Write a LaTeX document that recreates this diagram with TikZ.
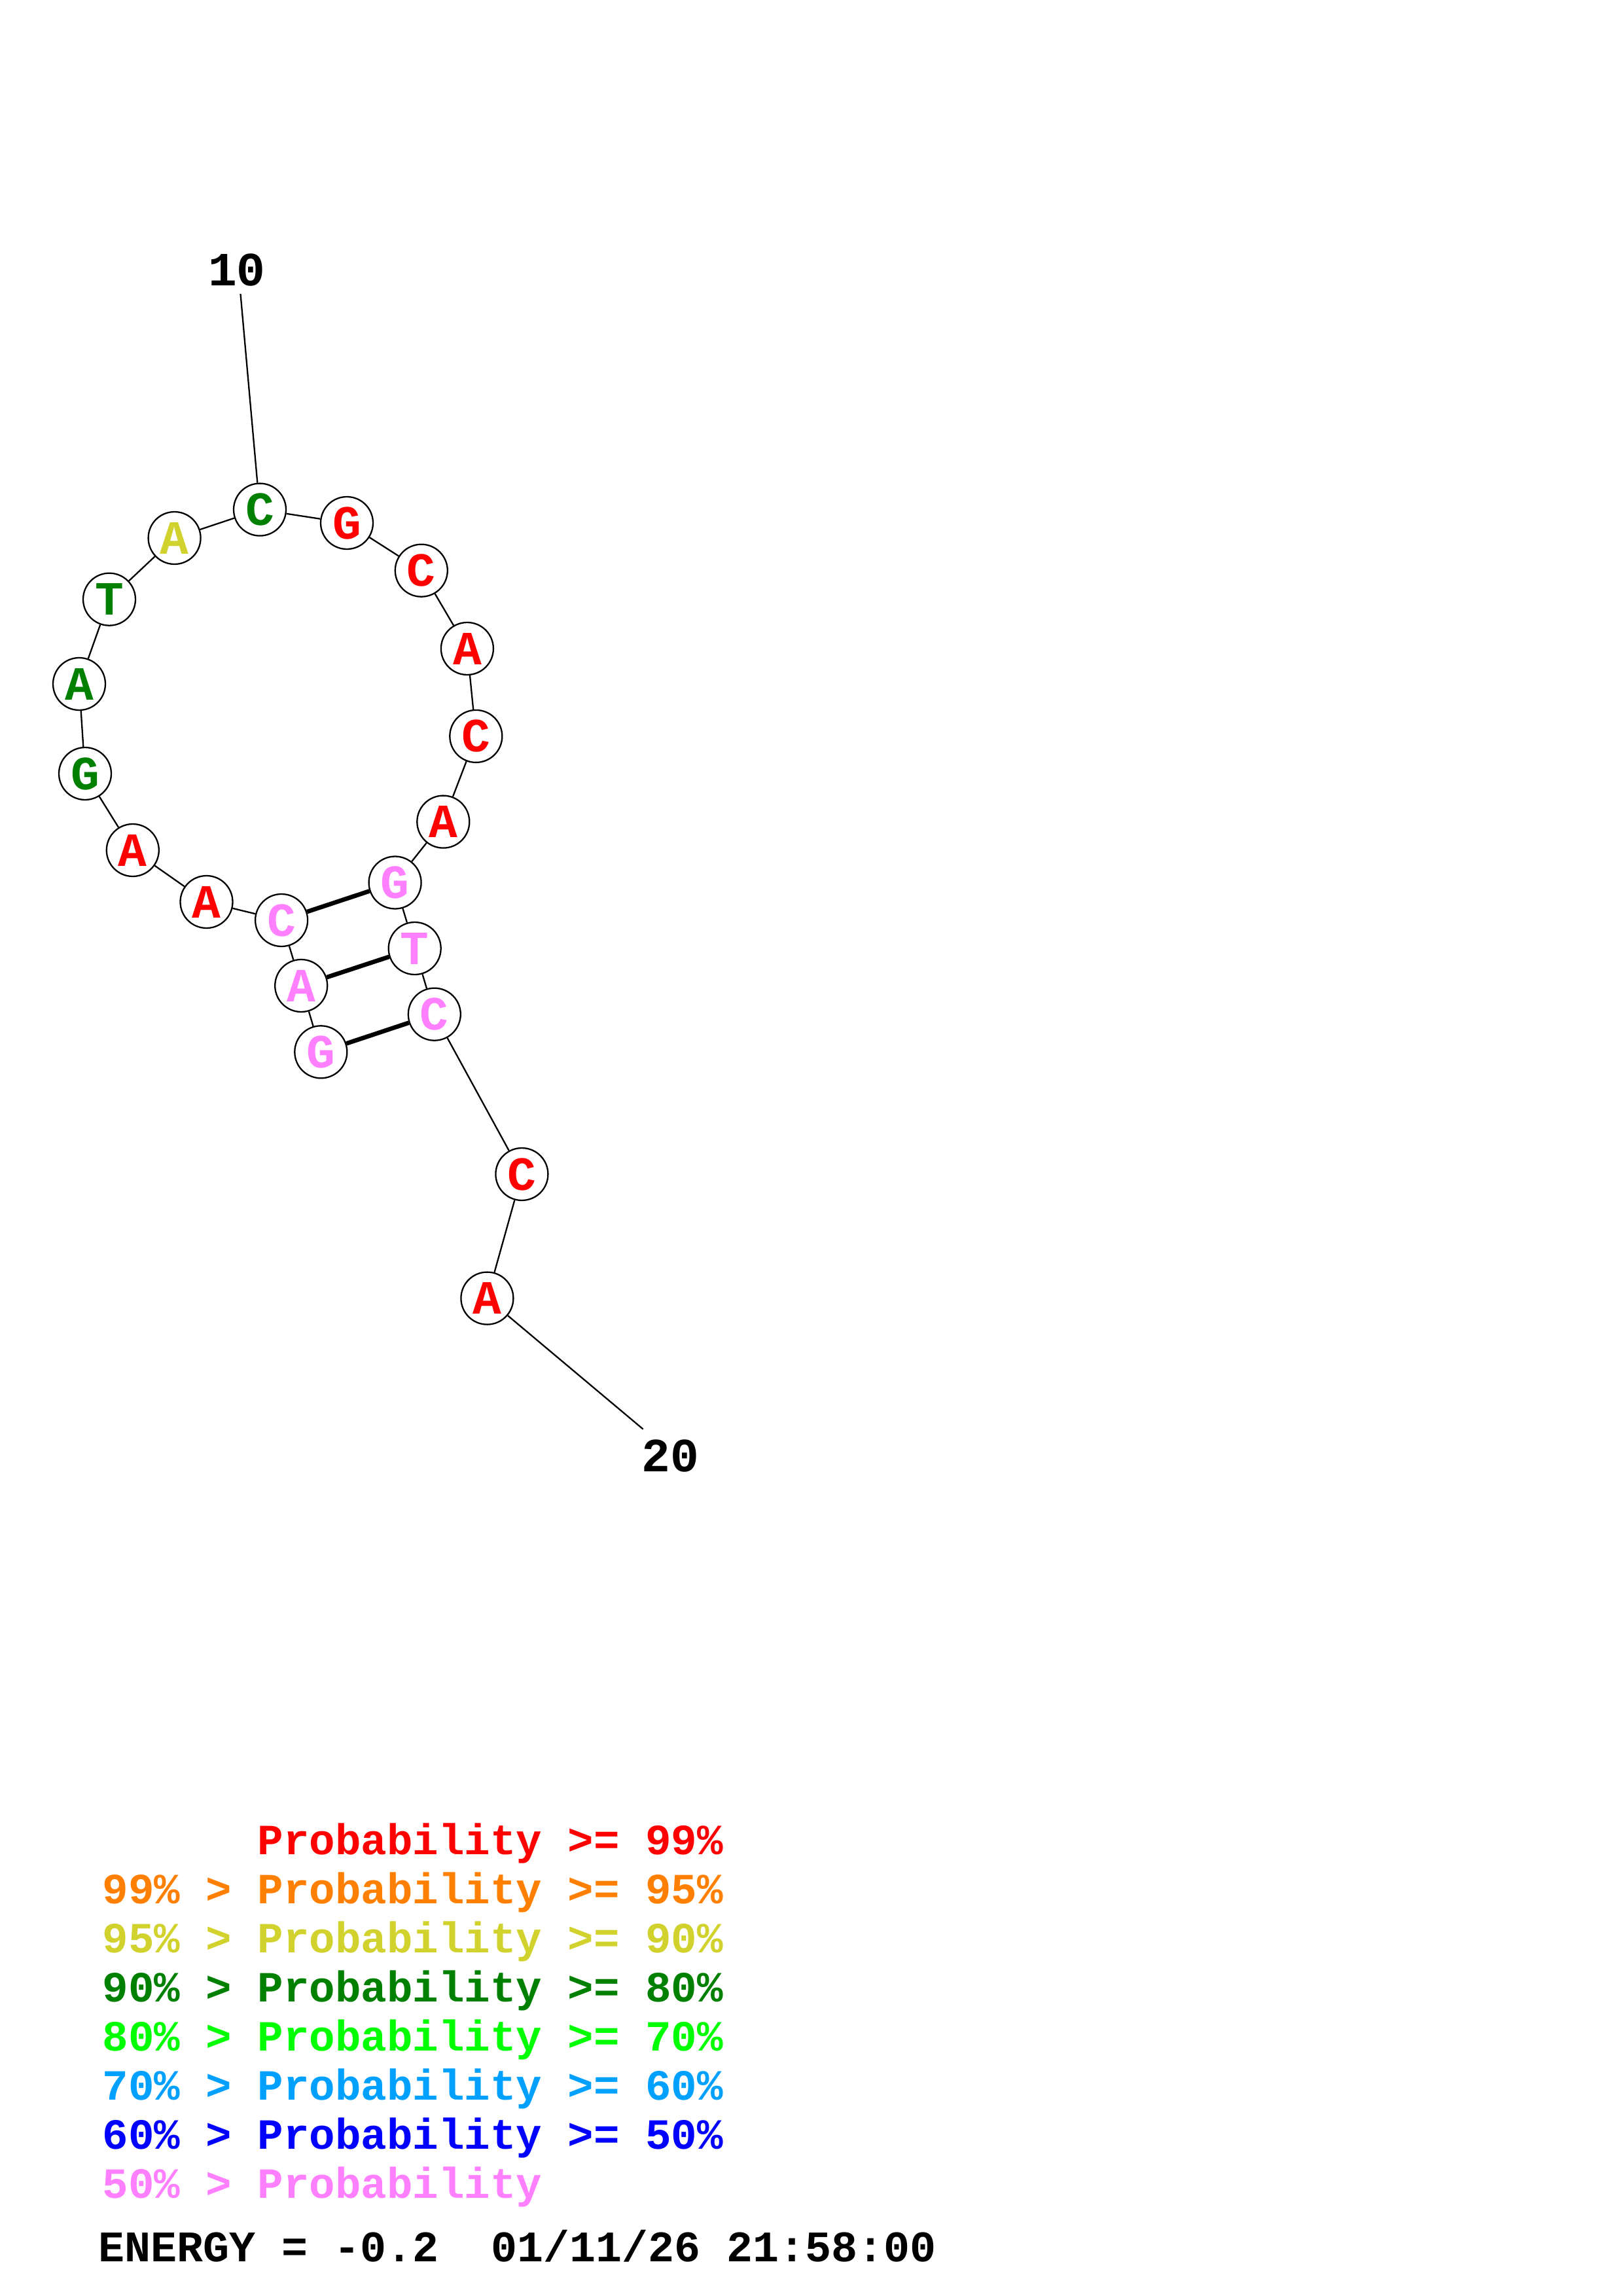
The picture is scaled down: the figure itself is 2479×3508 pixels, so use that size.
\documentclass[tikz,border=0pt]{standalone}
\usepackage{fontspec}
\newfontfamily\cour{Liberation Mono}
\definecolor{pr}{HTML}{FF0000}
\definecolor{po}{HTML}{FF8000}
\definecolor{py}{HTML}{D2D22E}
\definecolor{pdg}{HTML}{008000}
\definecolor{pg}{HTML}{00FF00}
\definecolor{plb}{HTML}{00A0FF}
\definecolor{pb}{HTML}{0000FF}
\definecolor{pp}{HTML}{FF80FF}
\begin{document}
\begin{tikzpicture}[x=0.24pt,y=-0.24pt,
  nt/.style={circle,draw=black,line width=0.55pt,fill=white,minimum size=19.2pt,inner sep=0pt,
    font=\cour\bfseries\fontsize{17.5}{17.5}\selectfont},
  bb/.style={line width=0.55pt},
  bp/.style={line width=1.6pt},
  lbl/.style={font=\cour\bfseries\fontsize{17.5}{17.5}\selectfont,inner sep=0pt},
  leg/.style={font=\cour\bfseries\fontsize{15.8}{15.8}\selectfont,inner sep=0pt,anchor=base west}]
\useasboundingbox (0,0) rectangle (2479,3508);
\node[nt,text=pp]  (n1)  at (490.3,1607.3) {G};
\node[nt,text=pp]  (n2)  at (460.2,1506) {A};
\node[nt,text=pp]  (n3)  at (430.1,1406) {C};
\node[nt,text=pr]  (n4)  at (315.5,1378) {A};
\node[nt,text=pr]  (n5)  at (202.8,1299) {A};
\node[nt,text=pdg] (n6)  at (130,1182) {G};
\node[nt,text=pdg] (n7)  at (121,1045) {A};
\node[nt,text=pdg] (n8)  at (167,915.7) {T};
\node[nt,text=py]  (n9)  at (266.6,822) {A};
\node[nt,text=pdg] (n10) at (397,778.6) {C};
\node[nt,text=pr]  (n11) at (530,799) {G};
\node[nt,text=pr]  (n12) at (643.8,871.7) {C};
\node[nt,text=pr]  (n13) at (713.9,991) {A};
\node[nt,text=pr]  (n14) at (727.3,1124.9) {C};
\node[nt,text=pr]  (n15) at (677.3,1255.6) {A};
\node[nt,text=pp]  (n16) at (603.6,1348.5) {G};
\node[nt,text=pp]  (n17) at (633.7,1449) {T};
\node[nt,text=pp]  (n18) at (663.8,1549.7) {C};
\node[nt,text=pr]  (n19) at (797.4,1794) {C};
\node[nt,text=pr]  (n20) at (744.4,1983.6) {A};
\foreach \a/\b in {1/2,2/3,3/4,4/5,5/6,6/7,7/8,8/9,9/10,10/11,11/12,12/13,13/14,14/15,15/16,16/17,17/18,18/19,19/20}
  \draw[bb] (n\a) -- (n\b);
\draw[bp] (n3) -- (n16);
\draw[bp] (n2) -- (n17);
\draw[bp] (n1) -- (n18);
\node[lbl] (l10) at (362,412) {10};
\coordinate (e10) at (367.5,449);
\draw[bb] (n10) -- (e10);
\node[lbl] (l20) at (1024.5,2224) {20};
\coordinate (e20) at (982.7,2183.6);
\draw[bb] (n20) -- (e20);
% legend
\node[leg,text=pr]  (g1) at (156,2833) {\phantom{99\% > }Probability >= 99\%};
\node[leg,text=po]  (g2) at (156,2908) {99\% > Probability >= 95\%};
\node[leg,text=py]  (g3) at (156,2983) {95\% > Probability >= 90\%};
\node[leg,text=pdg] (g4) at (156,3058) {90\% > Probability >= 80\%};
\node[leg,text=pg]  (g5) at (156,3133) {80\% > Probability >= 70\%};
\node[leg,text=plb] (g6) at (156,3208) {70\% > Probability >= 60\%};
\node[leg,text=pb]  (g7) at (156,3283) {60\% > Probability >= 50\%};
\node[leg,text=pp]  (g8) at (156,3358) {50\% > Probability};
\node[leg,text=black,font=\cour\bfseries\fontsize{16.0}{16.0}\selectfont] (en) at (150,3455) {ENERGY = -0.2\ \ 01/11/26 21:58:00};
\end{tikzpicture}
\end{document}
